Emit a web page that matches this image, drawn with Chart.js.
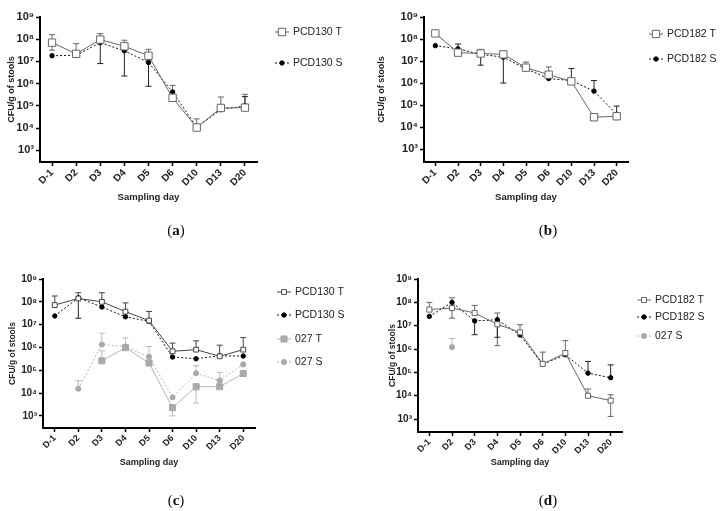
<!DOCTYPE html>
<html>
<head>
<meta charset="utf-8">
<script src="https://cdn.jsdelivr.net/npm/chart.js@4"></script>
<style>
  body { margin: 0; background: #fff; }
  #wrap { position: relative; width: 720px; height: 511px; overflow: hidden; }
  canvas { position: absolute; }
  .tag { position: absolute; font: 15px "Liberation Serif", "Times New Roman", serif; color: #111; transform: translate(-50%, -50%); }
</style>
</head>
<body>
<div id="wrap">
  <canvas id="chartA" width="360" height="240" style="left:0;top:0"></canvas>
  <canvas id="chartB" width="360" height="240" style="left:360px;top:0"></canvas>
  <canvas id="chartC" width="360" height="271" style="left:0;top:240px"></canvas>
  <canvas id="chartD" width="360" height="271" style="left:360px;top:240px"></canvas>
  <div class="tag" style="left:176px;top:230px">(<b>a</b>)</div>
  <div class="tag" style="left:548px;top:230px">(<b>b</b>)</div>
  <div class="tag" style="left:176px;top:500px">(<b>c</b>)</div>
  <div class="tag" style="left:548px;top:500px">(<b>d</b>)</div>
</div>
<script>
// sampling days and log ticks
const days = ["D-1", "D2", "D3", "D4", "D5", "D6", "D10", "D13", "D20"];
const yTicks = [1e3, 1e4, 1e5, 1e6, 1e7, 1e8, 1e9];

// (a) PCD130
const aPcd130T = [7e7, 2.2e7, 9.6e7, 4.8e7, 1.8e7, 2.3e5, 1.05e4, 8e4, 8.3e4];
const aPcd130THi = [1.6e8, 6.3e7, 1.8e8, 9e7, 3.5e7, 8.3e5, 2.6e4, 2.5e5, 3.3e5];
const aPcd130TLo = [3.2e7, null, null, null, null, null, null, null, null];
const aPcd130S = [1.8e7, 1.9e7, 7e7, 3e7, 9e6, 4.2e5, 1.1e4, 6.7e4, 1e5];
const aPcd130SHi = [null, null, null, null, null, null, null, null, 2.6e5];
const aPcd130SLo = [null, null, 8e6, 2.2e6, 7.6e5, null, null, null, null];

// (b) PCD182
const bPcd182T = [1.8e8, 2.4e7, 2.2e7, 2e7, 5e6, 2.4e6, 1.2e6, 2.8e4, 3.1e4];
const bPcd182THi = [null, null, 3.4e7, null, 9e6, 5.4e6, null, null, null];
const bPcd182S = [5e7, 3.6e7, 2e7, 1.5e7, 4.4e6, 1.6e6, 1.3e6, 4.3e5, 3.8e4];
const bPcd182SHi = [null, 5.9e7, null, null, null, null, 4.6e6, 1.3e6, 9e4];
const bPcd182SLo = [null, null, 6.5e6, 1e6, null, null, null, null, null];

// (c) PCD130 + 027
const cPcd130T = [7.2e7, 1.4e8, 1e8, 3.7e7, 1.5e7, 6.8e5, 8e5, 4.1e5, 8e5];
const cPcd130THi = [1.8e8, 2.5e8, 2.5e8, 9e7, 3.8e7, 1.55e6, 1.95e6, 1.26e6, 2.7e6];
const cPcd130S = [2.4e7, 1.5e8, 5.9e7, 2.2e7, 1.4e7, 3.8e5, 3.2e5, 4.3e5, 4.2e5];
const cPcd130SLo = [null, 1.9e7, null, null, null, null, null, null, null];
const c027T = [null, null, 2.6e5, 9.8e5, 2.1e5, 2.3e3, 1.9e4, 1.9e4, 7.2e4];
const c027THi = [null, null, 7.2e5, 2.6e6, null, null, null, null, null];
const c027TLo = [null, null, null, null, null, 1e3, 3.7e3, null, null];
const c027S = [null, 1.55e4, 1.35e6, 1.1e6, 3.9e5, 6.5e3, 7.4e4, 3.5e4, 1.8e5];
const c027SHi = [null, 3.5e4, 4.2e6, null, 1.1e6, null, 1.6e5, 8.1e4, null];

// (d) PCD182 + 027
const dPcd182T = [4.9e7, 5.7e7, 3.5e7, 1.15e7, 5.2e6, 2.3e5, 6.7e5, 1e4, 6.2e3];
const dPcd182THi = [1e8, 1.55e8, 7.4e7, 3.5e7, 1.1e7, 7.4e5, 2.3e6, 1.95e4, 1.1e4];
const dPcd182TLo = [null, 2.1e7, null, 1.4e6, null, null, null, null, 1.3e3];
const dPcd182S = [2.5e7, 1e8, 1.6e7, 1.8e7, 4e6, 2.2e5, 5.7e5, 9.3e4, 5.9e4];
const dPcd182SHi = [null, null, null, null, null, null, null, 2.95e5, 2.1e5];
const dPcd182SLo = [null, null, 4.1e6, 3.2e6, null, null, null, null, null];
const d027S = [null, 1.2e6, null, null, null, null, null, null, null];
const d027SHi = [null, 2.8e6, null, null, null, null, null, null, null];

const SUP = { 3: "\u00b3", 4: "\u2074", 5: "\u2075", 6: "\u2076", 7: "\u2077", 8: "\u2078", 9: "\u2079" };
const FONT = "'Liberation Sans', Arial, sans-serif";
Chart.defaults.font.family = FONT;
Chart.defaults.color = "#222";

// vertical error bars, drawn under the markers
const errorBars = {
  id: "errorBars",
  beforeDatasetsDraw(chart) {
    const { ctx, scales: { x, y } } = chart;
    ctx.save();
    chart.data.datasets.forEach((ds) => {
      ctx.strokeStyle = ds.errColor || ds.borderColor;
      ctx.lineWidth = 1;
      [ds.errHi, ds.errLo].forEach((arr) => {
        if (!arr) return;
        arr.forEach((v, j) => {
          if (v == null || ds.data[j] == null) return;
          const px = x.getPixelForValue(j);
          const y0 = y.getPixelForValue(ds.data[j]);
          const y1 = y.getPixelForValue(v);
          ctx.beginPath();
          ctx.moveTo(px, y0);
          ctx.lineTo(px, y1);
          ctx.moveTo(px - 3, y1);
          ctx.lineTo(px + 3, y1);
          ctx.stroke();
        });
      });
    });
    ctx.restore();
  },
};

// legend on the right, line + marker + label
const sideLegend = {
  id: "sideLegend",
  afterDraw(chart, args, opts) {
    const ctx = chart.ctx;
    ctx.save();
    chart.data.datasets.forEach((ds, i) => {
      const x = opts.x;
      const y = opts.ys[i];
      ctx.strokeStyle = ds.borderColor;
      ctx.lineWidth = ds.borderWidth;
      ctx.setLineDash(ds.borderDash || []);
      ctx.beginPath();
      ctx.moveTo(x, y);
      ctx.lineTo(x + 14, y);
      ctx.stroke();
      ctx.setLineDash([]);
      ctx.fillStyle = ds.pointBackgroundColor;
      ctx.strokeStyle = ds.pointBorderColor;
      ctx.lineWidth = 1;
      Chart.helpers.drawPoint(ctx, { pointStyle: ds.pointStyle, radius: ds.pointRadius, borderWidth: 1, rotation: 0 }, x + 7, y);
      ctx.fillStyle = "#222";
      ctx.font = "10.5px " + FONT;
      ctx.textBaseline = "middle";
      ctx.fillText(ds.label, opts.textX, y);
    });
    ctx.restore();
  },
};

function series(label, data, hi, lo, style) {
  return Object.assign({
    label: label,
    data: data,
    errHi: hi,
    errLo: lo,
    borderWidth: 1,
    pointBorderWidth: 1,
    spanGaps: false,
  }, style);
}

const openSquare = (r, c) => ({ borderColor: c, pointStyle: "rect", pointRadius: r, pointBackgroundColor: "#fff", pointBorderColor: c, errColor: c });
const blackDot = { borderColor: "#111", borderDash: [2, 2], pointStyle: "circle", pointRadius: 2.2, pointBackgroundColor: "#000", pointBorderColor: "#000", errColor: "#222" };
const greySquare = { borderColor: "#b4b4b4", pointStyle: "rect", pointRadius: 4.3, pointBackgroundColor: "#aaa", pointBorderColor: "#aaa", errColor: "#bbb" };
const greyDot = { borderColor: "#b4b4b4", borderDash: [2, 2], pointStyle: "circle", pointRadius: 2.6, pointBackgroundColor: "#aaa", pointBorderColor: "#aaa", errColor: "#bbb" };

function makePanel(id, p, datasets) {
  const canvas = document.getElementById(id);
  const H = canvas.height, W = canvas.width;
  const lh = p.titleSize * 1.2;
  const padLeft = p.yTitleX - lh / 2;
  return new Chart(canvas, {
    type: "line",
    data: { labels: days, datasets: datasets },
    options: {
      responsive: false,
      animation: false,
      devicePixelRatio: 1,
      layout: { padding: { left: padLeft, top: p.top, right: W - p.axisRight, bottom: H - (p.xTitleY + 8) } },
      plugins: {
        legend: { display: false },
        tooltip: { enabled: false },
        sideLegend: { x: p.legendX, textX: p.legendX + 18, ys: p.legendYs },
      },
      scales: {
        x: {
          type: "category",
          offset: true,
          border: { display: true, width: 2, color: "#000" },
          grid: { drawOnChartArea: false, drawTicks: true, tickLength: 4, tickColor: "#000", tickWidth: 1.5 },
          ticks: { minRotation: 45, maxRotation: 45, autoSkip: false, padding: 1, color: "#222", font: { size: p.tickSize, weight: "bold" } },
          title: { display: true, text: "Sampling day", color: "#222", font: { size: p.titleSize, weight: "bold" }, padding: { top: 0, bottom: 8 - lh / 2 } },
          afterFit: (scale) => { scale.height = p.xTitleY + 8 - p.bottom; },
        },
        y: {
          type: "logarithmic",
          min: p.min,
          max: 1e9,
          border: { display: true, width: 2, color: "#000" },
          grid: { drawOnChartArea: false, drawTicks: true, tickLength: 4, tickColor: "#000", tickWidth: 1.5 },
          afterBuildTicks: (scale) => { scale.ticks = yTicks.map((v) => ({ value: v })); },
          ticks: {
            padding: 2,
            color: "#222",
            font: { size: p.tickSize + 1, weight: "bold" },
            callback: (v) => "10" + SUP[Math.round(Math.log10(v))],
          },
          title: { display: true, text: "CFU/g of stools", color: "#222", font: { size: p.titleSize - 0.5, weight: "bold" }, padding: { top: 0, bottom: 0 } },
          afterFit: (scale) => { scale.width = p.axisLeft - padLeft; },
        },
      },
    },
    plugins: [errorBars, sideLegend],
  });
}

makePanel("chartA", { axisLeft: 40, axisRight: 257, top: 17, bottom: 162, min: 295, yTitleX: 12, xTitleY: 197, tickSize: 10, titleSize: 9.5, legendX: 275, legendYs: [32, 63] }, [
  series("PCD130 T", aPcd130T, aPcd130THi, aPcd130TLo, openSquare(5.2, "#666")),
  series("PCD130 S", aPcd130S, aPcd130SHi, aPcd130SLo, blackDot),
]);

makePanel("chartB", { axisLeft: 64, axisRight: 268, top: 17, bottom: 162, min: 260, yTitleX: 22, xTitleY: 197, tickSize: 10, titleSize: 9.5, legendX: 289, legendYs: [34, 59] }, [
  series("PCD182 T", bPcd182T, bPcd182THi, null, openSquare(5.2, "#666")),
  series("PCD182 S", bPcd182S, bPcd182SHi, bPcd182SLo, blackDot),
]);

makePanel("chartC", { axisLeft: 43, axisRight: 255, top: 39, bottom: 188, min: 295, yTitleX: 13, xTitleY: 223, tickSize: 9, titleSize: 9, legendX: 277, legendYs: [52, 75, 99, 122] }, [
  series("PCD130 T", cPcd130T, cPcd130THi, null, openSquare(3.4, "#444")),
  series("PCD130 S", cPcd130S, null, cPcd130SLo, blackDot),
  series("027 T", c027T, c027THi, c027TLo, greySquare),
  series("027 S", c027S, c027SHi, null, greyDot),
]);

makePanel("chartD", { axisLeft: 58, axisRight: 262, top: 39, bottom: 192, min: 280, yTitleX: 33, xTitleY: 223, tickSize: 9, titleSize: 9, legendX: 277, legendYs: [60, 77, 96] }, [
  series("PCD182 T", dPcd182T, dPcd182THi, dPcd182TLo, openSquare(3.6, "#666")),
  series("PCD182 S", dPcd182S, dPcd182SHi, dPcd182SLo, blackDot),
  series("027 S", d027S, d027SHi, null, greyDot),
]);
</script>
</body>
</html>
